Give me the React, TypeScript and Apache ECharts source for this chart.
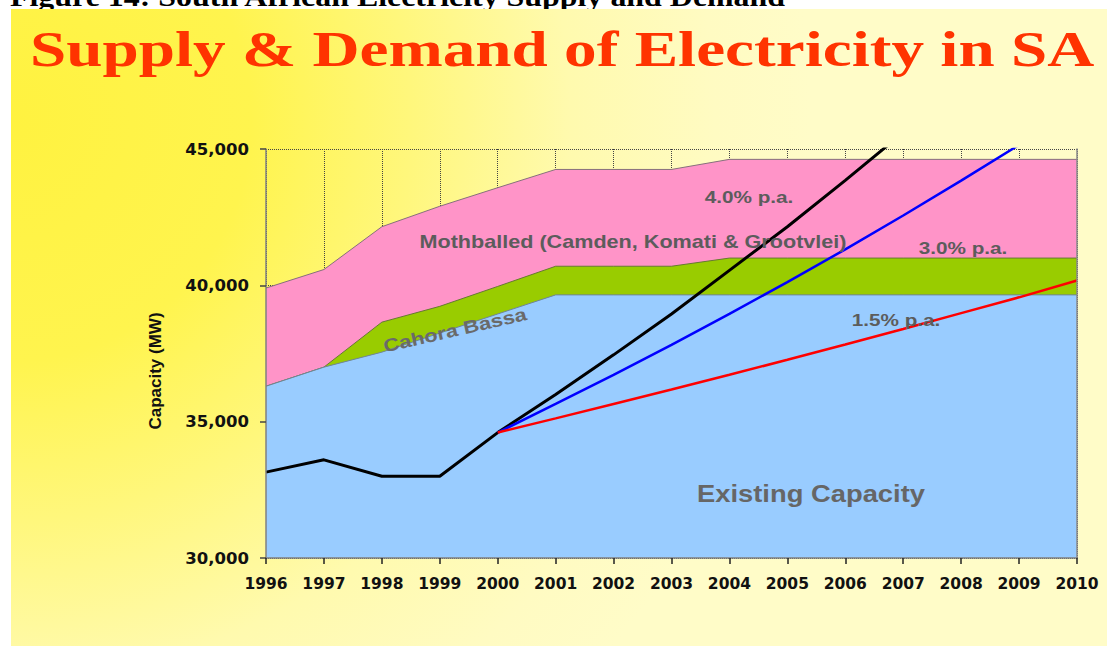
import React, { useEffect, useRef } from 'react';
import * as echarts from 'echarts';

// Years on the category axis
const years = ['1996', '1997', '1998', '1999', '2000', '2001', '2002', '2003', '2004', '2005', '2006', '2007', '2008', '2009', '2010'];

// Supply capacity (MW) – upper edge of each band
const existingCapacity = [36300, 37000, 37550, 38250, 38950, 39650, 39650, 39650, 39650, 39650, 39650, 39650, 39650, 39650, 39650];
const withCahoraBassa = [36300, 37000, 38650, 39230, 39960, 40700, 40700, 40700, 41000, 41000, 41000, 41000, 41000, 41000, 41000];
const withMothballed = [39900, 40580, 42150, 42900, 43580, 44250, 44250, 44250, 44620, 44620, 44620, 44620, 44620, 44620, 44620];

// Demand (MW): history and growth scenarios from 2000
const demand4pct = [33150, 33600, 33000, 33000, 34600, 36000, 37450, 38950, 40550, 42150, 43850, 45600, null, null, null];
const demand3pct = [null, null, null, null, 34600, 35650, 36720, 37820, 38950, 40120, 41320, 42560, 43840, 45150, null];
const demand15pct = [null, null, null, null, 34600, 35120, 35650, 36180, 36720, 37270, 37830, 38400, 38980, 39560, 40180];

// Value axis range
const yMin = 30000;
const yMax = 45000;
const yStep = 5000;

const SANS = '"Liberation Sans", Arial, sans-serif';
const AXIS_FONT = '"DejaVu Sans", sans-serif';

function areaSeries(name: string, data: number[], color: string, edge: string, z: number) {
  return {
    type: 'line',
    name,
    data,
    z,
    symbol: 'none',
    silent: true,
    lineStyle: { color: edge, width: 1 },
    areaStyle: { color, opacity: 1, origin: 'start' },
  };
}

function demandSeries(name: string, data: (number | null)[], color: string, width: number, z: number) {
  return {
    type: 'line',
    name,
    data,
    z,
    symbol: 'none',
    silent: true,
    clip: true,
    lineStyle: { color, width },
  };
}

function note(text: string, x: number, y: number, size: number, color: string, scaleX: number, rotation = 0) {
  return {
    type: 'text',
    x,
    y,
    rotation,
    scaleX,
    scaleY: 1,
    z: 100,
    silent: true,
    style: {
      text,
      font: `bold ${size}px ${SANS}`,
      fill: color,
      textAlign: 'center',
      textVerticalAlign: 'middle',
    },
  };
}

function buildOption() {
  const labelStyle = { color: '#111', fontFamily: AXIS_FONT, fontWeight: 'bold' };
  return {
    animation: false,
    backgroundColor: '#ffffff',
    grid: { left: 266, right: 30, top: 149, bottom: 88, containLabel: false },
    xAxis: [
      {
        type: 'category',
        data: years,
        boundaryGap: false,
        position: 'bottom',
        axisLine: { show: false },
        axisTick: { show: false },
        axisLabel: { show: false },
        splitLine: { show: true, lineStyle: { type: 'dotted', color: '#444', width: 1 } },
      },
      {
        type: 'category',
        data: years,
        boundaryGap: false,
        position: 'bottom',
        z: 10,
        axisLine: { show: true, lineStyle: { color: '#808080', width: 1.5 } },
        axisTick: { show: true, inside: false, length: 6, lineStyle: { color: '#222', width: 1.5 } },
        axisLabel: { ...labelStyle, fontSize: 15.5, margin: 18, interval: 0 },
        splitLine: { show: false },
      },
    ],
    yAxis: [
      {
        type: 'value',
        min: yMin,
        max: yMax,
        interval: yStep,
        position: 'left',
        axisLine: { show: false },
        axisTick: { show: false },
        axisLabel: {
          ...labelStyle,
          fontSize: 16.5,
          margin: 17,
          formatter: (v: number) => v.toLocaleString('en-US'),
        },
        splitLine: { show: true, lineStyle: { type: 'dotted', color: '#444', width: 1 } },
      },
      {
        type: 'value',
        min: yMin,
        max: yMax,
        interval: yStep,
        position: 'left',
        z: 10,
        axisLine: { show: true, lineStyle: { color: '#808080', width: 1.5 } },
        axisTick: { show: true, inside: false, length: 6, lineStyle: { color: '#444', width: 1.5 } },
        axisLabel: { show: false },
        splitLine: { show: false },
      },
      {
        type: 'value',
        min: yMin,
        max: yMax,
        interval: yStep,
        position: 'right',
        z: 10,
        axisLine: { show: true, lineStyle: { color: '#8a8a8a', width: 1.5 } },
        axisTick: { show: false },
        axisLabel: { show: false },
        splitLine: { show: false },
      },
    ],
    series: [
      areaSeries('Mothballed', withMothballed, '#ff94c8', '#86707c', 1),
      areaSeries('Cahora Bassa', withCahoraBassa, '#99cc00', '#667a30', 2),
      areaSeries('Existing Capacity', existingCapacity, '#99ccff', '#6f8499', 3),
      demandSeries('4.0% p.a.', demand4pct, '#000000', 3, 5),
      demandSeries('3.0% p.a.', demand3pct, '#0000ff', 2.5, 6),
      demandSeries('1.5% p.a.', demand15pct, '#ff0000', 2.5, 7),
    ],
    graphic: [
      {
        type: 'text',
        x: 10,
        y: -3.5,
        scaleX: 1.14,
        z: -20,
        silent: true,
        style: {
          text: 'Figure 14: South African Electricity Supply and Demand',
          font: 'bold 28px "Liberation Serif", "Times New Roman", serif',
          fill: '#000000',
          textAlign: 'left',
          textVerticalAlign: 'middle',
        },
      },
      {
        type: 'rect',
        z: -10,
        silent: true,
        shape: { x: 11, y: 9, width: 1096, height: 637 },
        style: {
          fill: {
            type: 'radial',
            x: 11,
            y: 120,
            r: 800,
            global: true,
            colorStops: [
              { offset: 0, color: '#fff240' },
              { offset: 0.3, color: '#fff44e' },
              { offset: 0.5, color: '#fff77c' },
              { offset: 0.7, color: '#fffaae' },
              { offset: 0.88, color: '#fffbc2' },
              { offset: 1, color: '#fffcc8' },
            ],
          },
        },
      },
      {
        type: 'text',
        x: 30,
        y: 49,
        scaleX: 1.278,
        z: 100,
        silent: true,
        style: {
          text: 'Supply & Demand of Electricity in SA',
          font: 'bold 51px "Liberation Serif", "Times New Roman", serif',
          fill: '#ff3300',
          textAlign: 'left',
          textVerticalAlign: 'middle',
        },
      },
      {
        type: 'text',
        x: 155,
        y: 371,
        rotation: Math.PI / 2,
        z: 100,
        silent: true,
        style: {
          text: 'Capacity (MW)',
          font: `bold 17px ${SANS}`,
          fill: '#111111',
          textAlign: 'center',
          textVerticalAlign: 'middle',
        },
      },
      note('Mothballed (Camden, Komati & Grootvlei)', 633, 242, 18, '#5c5c5c', 1.2),
      note('Cahora Bassa', 455, 330, 18, '#6a6a6a', 1.22, (13 * Math.PI) / 180),
      note('4.0% p.a.', 749, 197, 17, '#5c5c5c', 1.22),
      note('3.0% p.a.', 963, 248, 17, '#5c5c5c', 1.22),
      note('1.5% p.a.', 896, 320, 17, '#5c5c5c', 1.22),
      note('Existing Capacity', 811, 494, 23, '#666666', 1.19),
    ],
  };
}

export default function App() {
  const ref = useRef<HTMLDivElement>(null);
  useEffect(() => {
    if (!ref.current) return;
    const chart = echarts.init(ref.current, undefined, { renderer: 'svg' });
    chart.setOption(buildOption() as any);
    return () => chart.dispose();
  }, []);
  return (
    <div
      ref={ref}
      style={{ position: 'fixed', left: 0, top: 0, width: 1107, height: 646, background: '#ffffff' }}
    />
  );
}
